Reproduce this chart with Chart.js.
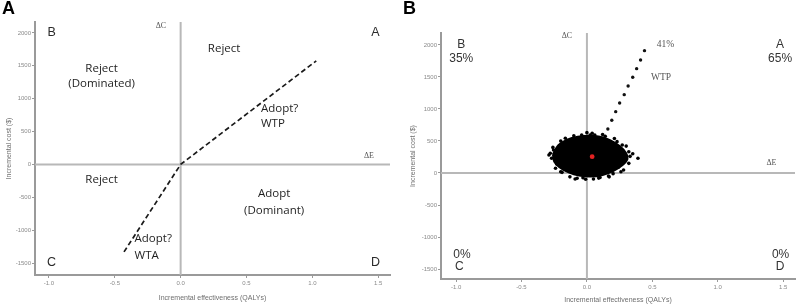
<!DOCTYPE html>
<html>
<head>
<meta charset="utf-8">
<script src="https://cdn.jsdelivr.net/npm/chart.js@4.4.1/dist/chart.umd.min.js"></script>
<style>
  body { margin: 0; background: #fff; }
  .panel { position: absolute; top: 0; width: 400px; height: 307px; }
  .tag { position: absolute; top: -2px; font: bold 18px "Liberation Sans", Arial, sans-serif; color: #000; }
</style>
</head>
<body>
<div class="panel" style="left:0"><canvas id="chartA" width="400" height="307"></canvas><div class="tag" style="left:2px">A</div></div>
<div class="panel" style="left:400px"><canvas id="chartB" width="400" height="307"></canvas><div class="tag" style="left:3px">B</div></div>
<script>
// axes
var xTicks = [-1.0, -0.5, 0.0, 0.5, 1.0, 1.5];
var yTicks = [-1500, -1000, -500, 0, 500, 1000, 1500, 2000];
var xRangeA = [-1.106, 1.59], yRangeA = [-1682, 2167];
var xRangeB = [-1.115, 1.59], yRangeB = [-1656, 2187];

// panel A: threshold line (WTA below, WTP above)
var thresholdX = [-0.43, 0, 1.03];
var thresholdY = [-1330, 0, 1576];

// panel A text: text, dE, dC
var labelsA = [
  ['Reject', 0.33, 1760, 'c'],
  ['Reject', -0.6, 1455, 'c'],
  ['(Dominated)', -0.6, 1227, 'c'],
  ['Adopt?', 0.61, 848, 'l'],
  ['WTP', 0.61, 621, 'l'],
  ['Reject', -0.6, -227, 'c'],
  ['Adopt', 0.71, -440, 'c'],
  ['(Dominant)', 0.71, -700, 'c'],
  ['Adopt?', -0.35, -1136, 'l'],
  ['WTA', -0.35, -1394, 'l']
];
var cornersA = [['B', -0.98, 2000], ['A', 1.48, 2000], ['C', -0.98, -1485], ['D', 1.48, -1485]];
var deltasA = [['\u0394C', -0.15, 2106], ['\u0394E', 1.43, 128]];

// panel B: simulated ICERs
var cloudOutlineX = [-0.26, -0.22, -0.15, -0.07, 0.02, 0.10, 0.18, 0.25, 0.30, 0.31, 0.27, 0.20, 0.12, 0.03, -0.06, -0.14, -0.21, -0.25, -0.26];
var cloudOutlineY = [290, 430, 520, 565, 580, 565, 510, 420, 310, 220, 120, 30, -30, -55, -40, 10, 90, 180, 290];
var cloudEdgeX = [-0.04, 0.04, 0.06, 0.23, 0.27, 0.32, 0.39, 0.32, 0.28, 0.165, -0.01, -0.075, -0.24, -0.27, -0.255, -0.28,
  -0.165, -0.125, -0.09, 0.05, -0.165, 0.025, 0.12, 0.2, -0.2, 0.10, 0.14, 0.21, 0.30, 0.33, 0.24, 0.09, -0.03, -0.13,
  -0.19, -0.23, -0.29, -0.26, -0.20, -0.10, 0.00, 0.17, 0.26, 0.35];
var cloudEdgeY = [594, 620, 594, 490, 438, 333, 230, 151, 47, -47, -98, -83, 73, 230, 359, 308, 542, 516, -94, -94, 469, 594,
  600, -10, 20, -70, 575, 540, 420, 260, 90, -80, -75, -60, 10, 140, 280, 400, 500, 580, 630, -60, 20, 300];
var meanX = [0.04];
var meanY = [255];
var wtpDotsX = [0.16, 0.19, 0.22, 0.25, 0.285, 0.315, 0.35, 0.38, 0.41, 0.44];
var wtpDotsY = [688, 824, 958, 1094, 1224, 1360, 1496, 1630, 1766, 1911];

var labelsB = [['41%', 0.60, 2000], ['WTP', 0.567, 1496]];
var cornersB = [
  ['B', -0.96, 2000], ['35%', -0.96, 1793], ['A', 1.476, 2000], ['65%', 1.476, 1793],
  ['0%', -0.955, -1282], ['C', -0.975, -1464], ['0%', 1.48, -1282], ['D', 1.476, -1464]
];
var deltasB = [['\u0394C', -0.153, 2141], ['\u0394E', 1.41, 151]];

function pts(xs, ys) {
  return xs.map(function (x, i) { return { x: x, y: ys[i] }; });
}

var textPlugin = {
  id: 'quadText',
  afterDatasetsDraw: function (chart, args, opts) {
    var ctx = chart.ctx, sx = chart.scales.x, sy = chart.scales.y;
    (opts.groups || []).forEach(function (g) {
      ctx.save();
      ctx.font = g.font;
      ctx.fillStyle = g.color;
      ctx.textBaseline = 'middle';
      g.items.forEach(function (t) {
        ctx.textAlign = t[3] === 'l' ? 'left' : 'center';
        ctx.fillText(t[0], sx.getPixelForValue(t[1]), sy.getPixelForValue(t[2]));
      });
      ctx.restore();
    });
  }
};

function scales(xr, yr, yWidth, xHeight, yTitlePad, xTitlePad) {
  var axisCol = '#9a9a9a';
  var tickFont = { family: 'Liberation Sans', size: 6 };
  var titleFont = { family: 'Liberation Sans', size: 7 };
  return {
    x: {
      type: 'linear', min: xr[0], max: xr[1],
      afterBuildTicks: function (s) { s.ticks = xTicks.map(function (v) { return { value: v }; }); },
      afterFit: function (s) { s.height = xHeight; },
      grid: { drawOnChartArea: false, drawTicks: true, tickLength: 3, color: axisCol, lineWidth: 1 },
      border: { display: true, color: axisCol, width: 2 },
      ticks: { color: '#8a8a8a', font: tickFont, padding: 2, maxRotation: 0, autoSkip: false,
        callback: function (v) { return Number(v).toFixed(1); } },
      title: { display: true, text: 'Incremental effectiveness (QALYs)', color: '#6e6e6e', font: titleFont,
        padding: { top: xTitlePad, bottom: xTitlePad } }
    },
    y: {
      type: 'linear', min: yr[0], max: yr[1],
      afterBuildTicks: function (s) { s.ticks = yTicks.map(function (v) { return { value: v }; }); },
      afterFit: function (s) { s.width = yWidth; },
      grid: { drawOnChartArea: false, drawTicks: true, tickLength: 3, color: axisCol, lineWidth: 1 },
      border: { display: true, color: axisCol, width: 2 },
      ticks: { color: '#8a8a8a', font: tickFont, padding: 1, autoSkip: false,
        callback: function (v) { return String(v); } },
      title: { display: true, text: 'Incremental cost ($)', color: '#6e6e6e', font: titleFont,
        padding: { top: yTitlePad, bottom: yTitlePad } }
    }
  };
}

function refLines(xr, yr) {
  return [
    { type: 'line', data: pts([0, 0], yr), borderColor: '#b8b8b8', borderWidth: 2, pointRadius: 0 },
    { type: 'line', data: pts(xr, [0, 0]), borderColor: '#b8b8b8', borderWidth: 2, pointRadius: 0 }
  ];
}

var common = {
  responsive: false,
  animation: false,
  events: [],
  plugins: { legend: { display: false }, tooltip: { enabled: false } }
};

new Chart(document.getElementById('chartA'), {
  type: 'scatter',
  data: {
    datasets: [
      { type: 'line', data: pts(thresholdX, thresholdY), borderColor: '#1a1a1a', borderWidth: 1.7,
        borderDash: [5, 3], pointRadius: 0 }
    ].concat(refLines(xRangeA, yRangeA))
  },
  options: Object.assign({}, common, {
    layout: { padding: { top: 22, right: 10, left: 0, bottom: 0 } },
    scales: scales(xRangeA, yRangeA, 35, 32, 5, 5),
    plugins: Object.assign({}, common.plugins, {
      quadText: { groups: [
        { font: '11.5px "Open Sans", sans-serif', color: '#1e1e1e', items: labelsA },
        { font: '12.5px "Liberation Sans", Arial, sans-serif', color: '#2a2a2a', items: cornersA },
        { font: '8px "Liberation Serif", serif', color: '#555', items: deltasA }
      ] }
    })
  }),
  plugins: [textPlugin]
});

new Chart(document.getElementById('chartB'), {
  type: 'scatter',
  data: {
    datasets: [
      { data: pts(meanX, meanY), backgroundColor: '#e32222', borderWidth: 0, pointRadius: 2.4 },
      { data: pts(wtpDotsX, wtpDotsY), backgroundColor: '#111', borderWidth: 0, pointRadius: 1.7 },
      { data: pts(cloudEdgeX, cloudEdgeY), backgroundColor: '#000', borderWidth: 0, pointRadius: 1.8 },
      { type: 'line', data: pts(cloudOutlineX, cloudOutlineY), borderColor: '#000', backgroundColor: '#000',
        borderWidth: 2, pointRadius: 0, fill: 'shape', tension: 0.3 }
    ].concat(refLines(xRangeB, yRangeB))
  },
  options: Object.assign({}, common, {
    layout: { padding: { top: 33, right: 5, left: 0, bottom: 0 } },
    scales: scales(xRangeB, yRangeB, 41, 28, 9, 3),
    plugins: Object.assign({}, common.plugins, {
      quadText: { groups: [
        { font: '12px "Liberation Sans", Arial, sans-serif', color: '#333', items: cornersB },
        { font: '9.5px "Liberation Serif", serif', color: '#555', items: labelsB },
        { font: '8px "Liberation Serif", serif', color: '#555', items: deltasB }
      ] }
    })
  }),
  plugins: [textPlugin]
});
</script>
</body>
</html>
